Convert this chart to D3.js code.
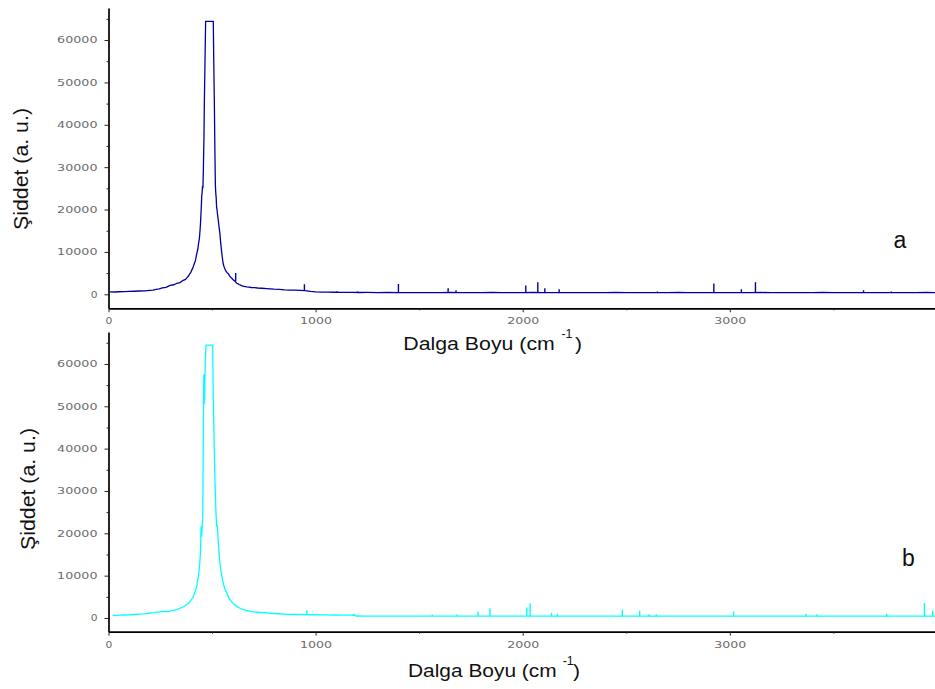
<!DOCTYPE html>
<html>
<head>
<meta charset="utf-8">
<script src="https://cdn.jsdelivr.net/npm/d3@7"></script>
<style>
  html, body { margin: 0; padding: 0; background: #fff; }
  svg { display: block; }
</style>
</head>
<body>
<svg id="chart" width="935" height="689"></svg>
<script>
// ---------------- DATA ----------------
// Spectrum a (top panel): wavenumber (cm-1) and intensity (a.u.)
const aWavenumber = [7, 30, 50, 75, 100, 125, 150, 175, 200, 215, 230, 245, 260, 278, 297, 315, 330, 345, 361, 372, 380, 386, 392, 397, 402, 408, 414, 420, 426, 431, 435, 439, 442, 444, 446, 448, 450, 452, 454, 456, 458, 461, 463, 466, 469,
  506, 508, 511, 514, 516, 518, 520, 522, 524, 526, 530, 534, 538, 542, 546, 550, 554, 558, 562, 566, 570, 574, 578, 584, 590, 595, 600, 605, 610, 619, 625, 630, 638, 645, 655, 667, 678, 690, 705, 720, 740, 764, 780, 800, 825, 850, 875, 900, 925, 950, 975, 1000, 1030, 1060, 1090, 1120, 1150, 1180, 1210,
  1250, 1300, 1350, 1400, 1450, 1500, 1550, 1600, 1650, 1700, 1750, 1800, 1850, 1900, 1950, 2000, 2050, 2100, 2150, 2200, 2250, 2300, 2350, 2400, 2450, 2500, 2550, 2600, 2650, 2700, 2750, 2800, 2850, 2900, 2950, 3000, 3050, 3100, 3150, 3200, 3250, 3300, 3350, 3400, 3450, 3500, 3550, 3600, 3650, 3700, 3750, 3800, 3850, 3900, 3950, 3991];
const aIntensity = [560, 540, 600, 640, 680, 720, 780, 820, 940, 1000, 1150, 1250, 1500, 1650, 2100, 2250, 2600, 2750, 3300, 3500, 4000, 4300, 4800, 5100, 5700, 6300, 7200, 8000, 9600, 10500, 12000, 13200, 15100, 16500, 18500, 20500, 23000, 24000, 25500, 25000, 29300, 37000, 45800, 55000, 64400,
  64400, 56000, 45800, 33000, 26000, 23800, 22800, 20500, 20000, 19000, 17500, 15800, 14300, 12000, 10200, 8500, 7200, 6500, 6000, 5600, 5300, 5000, 4900, 4400, 4000, 3800, 3500, 3300, 3100, 2600, 2500, 2300, 2150, 2000, 1850, 1730, 1700, 1600, 1550, 1480, 1420, 1340, 1300, 1200, 1150, 1050, 1000, 960, 940, 860, 700, 580, 530, 500, 480, 470, 450, 440, 420,
  430, 400, 420, 405, 380, 415, 395, 400, 425, 410, 390, 395, 420, 405, 385, 400, 420, 410, 390, 400, 415, 395, 380, 405, 420, 400, 385, 410, 400, 395, 420, 400, 385, 405, 415, 400, 390, 410, 420, 395, 385, 400, 410, 395, 420, 405, 390, 400, 415, 400, 385, 410, 395, 400, 420, 400];
// Narrow spikes of spectrum a: [wavenumber, base, top]
const aSpikes = [[614, 3100, 5000], [946, 760, 2360], [1104, 480, 700], [1202, 430, 650], [1400, 410, 2430], [1640, 405, 1420],
  [1678, 405, 950], [2015, 400, 2050], [2073, 410, 2830], [2107, 400, 1420], [2176, 400, 1180], [2650, 400, 650],
  [2923, 400, 2520], [3056, 400, 1180], [3124, 410, 2830], [3646, 400, 950], [3780, 400, 650]];

// Spectrum b (bottom panel)
const bWavenumber = [20, 35, 50, 75, 100, 125, 150, 175, 200, 220, 240, 265, 285, 310, 329, 345, 360, 377, 387, 395, 403, 410, 418, 426, 431, 436, 439, 442, 444, 445, 447, 450, 453, 455, 458, 460, 462, 464, 467, 471,
  503, 506, 510, 514, 518, 522, 525, 527, 530, 534, 538, 542, 546, 550, 554, 560, 566, 572, 578, 586, 595, 605, 619, 635, 650, 665, 683, 700, 720, 740, 764, 790, 820, 850, 880, 905, 925, 950, 975, 1000, 1025, 1050, 1075, 1100, 1125, 1150, 1170, 1188, 1196,
  1250, 1300, 1350, 1400, 1450, 1500, 1550, 1600, 1650, 1700, 1750, 1800, 1850, 1900, 1950, 2000, 2050, 2100, 2150, 2200, 2250, 2300, 2350, 2400, 2450, 2500, 2550, 2600, 2650, 2700, 2750, 2800, 2850, 2900, 2950, 3000, 3050, 3100, 3150, 3200, 3250, 3300, 3350, 3400, 3450, 3500, 3550, 3600, 3650, 3700, 3750, 3800, 3850, 3900, 3950, 3991];
const bIntensity = [620, 580, 660, 700, 740, 820, 900, 980, 1180, 1250, 1400, 1560, 1500, 1800, 1960, 2300, 2600, 3140, 3500, 4000, 4500, 5100, 6200, 7450, 9000, 10500, 12000, 13800, 15500, 17000, 21600, 19200, 22500, 23200, 44000, 57500, 50500, 52000, 60000, 64450,
  64450, 52300, 42000, 32600, 26000, 21600, 22000, 20800, 17700, 15200, 13000, 11500, 10300, 9200, 8260, 7200, 6400, 5900, 5100, 4400, 3800, 3300, 2750, 2300, 2000, 1800, 1560, 1450, 1350, 1300, 1180, 1100, 1000, 930, 860, 820, 780, 800, 760, 760, 720, 720, 690, 700, 670, 680, 660, 650, 470,
  460, 440, 455, 430, 450, 440, 460, 445, 430, 450, 440, 455, 435, 445, 450, 430, 440, 455, 435, 440, 425, 445, 430, 440, 450, 430, 420, 440, 435, 425, 440, 430, 420, 435, 440, 425, 430, 445, 425, 430, 420, 435, 425, 440, 420, 430, 425, 420, 435, 425, 430, 420, 425, 435, 420, 430];
// Narrow spikes of spectrum b: [wavenumber, base, top]
const bSpikes = [[958, 800, 1800], [1183, 650, 1000], [1564, 450, 750], [1683, 450, 850], [1784, 440, 1560], [1842, 440, 2270],
  [2020, 450, 2500], [2036, 450, 3440], [2139, 440, 1250], [2168, 435, 1000], [2481, 435, 1960], [2565, 435, 1720],
  [2610, 435, 900], [2645, 430, 900], [3018, 430, 1560], [3368, 425, 1000], [3421, 425, 900], [3758, 425, 1000],
  [3940, 425, 3540], [3980, 425, 1720]];

// Tick values
const yMajorTicks = [0, 10000, 20000, 30000, 40000, 50000, 60000];
const yMinorTicks = [5000, 15000, 25000, 35000, 45000, 55000, 65000];
const xMajorTicks = [0, 1000, 2000, 3000];
const xMinorTicks = [500, 1500, 2500, 3500];

const yLabelText = "Şiddet (a. u.)";
const xLabelText = "Dalga Boyu (cm";
const xLabelSup = "-1";
const panelLabels = ["a", "b"];

// ---------------- DRAW ----------------
const svg = d3.select("#chart");
const xRange = [108.5, 935];
const xDomain = [0, 3991];

const panels = [
  { wn: aWavenumber, val: aIntensity, spikes: aSpikes, color: "#0000a0", yDomain: [-3307, 67559], yRange: [308.3, 8],
    yLab: { x: 28, y: 169 }, xLab: { x: 403.3, w: 151.5, base: 350, supX: 561.5, supBase: 337.5, parX: 575 },
    tag: { x: 900, y: 248, t: panelLabels[0] } },
  { wn: bWavenumber, val: bIntensity, spikes: bSpikes, color: "#00ffff", yDomain: [-3240, 67550], yRange: [631.7, 332],
    yLab: { x: 35, y: 489 }, xLab: { x: 408, w: 148.7, base: 677, supX: 562.7, supBase: 665, parX: 573 },
    tag: { x: 908.5, y: 566, t: panelLabels[1] } }
];

svg.append("defs");

panels.forEach((p, i) => {
  const x = d3.scaleLinear().domain(xDomain).range(xRange);
  const y = d3.scaleLinear().domain(p.yDomain).range(p.yRange);

  const clipId = "clip" + i;
  svg.select("defs").append("clipPath").attr("id", clipId)
    .append("rect").attr("x", xRange[0]).attr("y", p.yRange[1])
    .attr("width", xRange[1] - xRange[0]).attr("height", p.yRange[0] - p.yRange[1]);

  const g = svg.append("g").attr("clip-path", `url(#${clipId})`);

  const data = p.wn.map((w, k) => [w, p.val[k]]);
  const line = d3.line().x(d => x(d[0])).y(d => y(d[1]));
  g.append("path").datum(data).attr("d", line)
    .attr("fill", "none").attr("stroke", p.color).attr("stroke-width", 1.3)
    .attr("stroke-linejoin", "miter");

  g.selectAll("line.spike").data(p.spikes).enter().append("line")
    .attr("class", "spike")
    .attr("x1", d => x(d[0])).attr("x2", d => x(d[0]))
    .attr("y1", d => y(d[1])).attr("y2", d => y(d[2]))
    .attr("stroke", p.color).attr("stroke-width", 1.4);

  // Axes
  const yAxis = d3.axisLeft(y).tickValues(yMajorTicks).tickSize(4).tickSizeOuter(0).tickPadding(7)
    .tickFormat(d3.format("d"));
  const yMinor = d3.axisLeft(y).tickValues(yMinorTicks).tickSize(2).tickSizeOuter(0).tickFormat("");
  const xAxis = d3.axisBottom(x).tickValues(xMajorTicks).tickSize(4).tickSizeOuter(0).tickPadding(6.3)
    .tickFormat(d3.format("d"));
  const xMinor = d3.axisBottom(x).tickValues(xMinorTicks).tickSize(2).tickSizeOuter(0).tickFormat("");

  const gy = svg.append("g").attr("transform", `translate(${xRange[0]},0)`).call(yAxis);
  const gym = svg.append("g").attr("transform", `translate(${xRange[0]},0)`).call(yMinor);
  const gx = svg.append("g").attr("transform", `translate(0,${p.yRange[0]})`).call(xAxis);
  const gxm = svg.append("g").attr("transform", `translate(0,${p.yRange[0]})`).call(xMinor);

  [gy, gym, gx, gxm].forEach(a => {
    a.select(".domain").attr("stroke", "#000").attr("stroke-width", 1.7);
    a.selectAll(".tick line").attr("stroke", "#222").attr("stroke-width", 1);
  });
  [gym, gxm].forEach(a => a.select(".domain").remove());

  [gy, gx].forEach(a => {
    a.selectAll(".tick text")
      .attr("font-family", "'DejaVu Sans', sans-serif")
      .attr("font-size", 8)
      .attr("fill", "#6a6a6a")
      .attr("textLength", d => String(d).length * 8.4 - 1.6)
      .attr("lengthAdjust", "spacingAndGlyphs");
  });
  gy.selectAll(".tick text").attr("dy", "0.36em");

  // Y label
  svg.append("text")
    .attr("transform", `translate(${p.yLab.x},${p.yLab.y}) rotate(-90)`)
    .attr("text-anchor", "middle")
    .attr("font-family", "'Liberation Sans', Arial, sans-serif")
    .attr("font-size", 20)
    .attr("fill", "#111")
    .attr("textLength", 122).attr("lengthAdjust", "spacingAndGlyphs")
    .text(yLabelText);

  // X label
  svg.append("text")
    .attr("x", p.xLab.x).attr("y", p.xLab.base)
    .attr("font-family", "'Liberation Sans', Arial, sans-serif")
    .attr("font-size", 17.5).attr("fill", "#111")
    .attr("textLength", p.xLab.w).attr("lengthAdjust", "spacingAndGlyphs")
    .text(xLabelText);
  svg.append("text")
    .attr("x", p.xLab.supX).attr("y", p.xLab.supBase)
    .attr("font-family", "'Liberation Sans', Arial, sans-serif")
    .attr("font-size", 12).attr("fill", "#111")
    .attr("textLength", 11).attr("lengthAdjust", "spacingAndGlyphs")
    .text(xLabelSup);
  svg.append("text")
    .attr("x", p.xLab.parX).attr("y", p.xLab.base)
    .attr("font-family", "'Liberation Sans', Arial, sans-serif")
    .attr("font-size", 17.5).attr("fill", "#111")
    .attr("textLength", 7).attr("lengthAdjust", "spacingAndGlyphs")
    .text(")");

  // Panel tag
  svg.append("text")
    .attr("x", p.tag.x).attr("y", p.tag.y)
    .attr("text-anchor", "middle")
    .attr("font-family", "'Liberation Sans', Arial, sans-serif")
    .attr("font-size", 23).attr("fill", "#111")
    .text(p.tag.t);
});
</script>
</body>
</html>
